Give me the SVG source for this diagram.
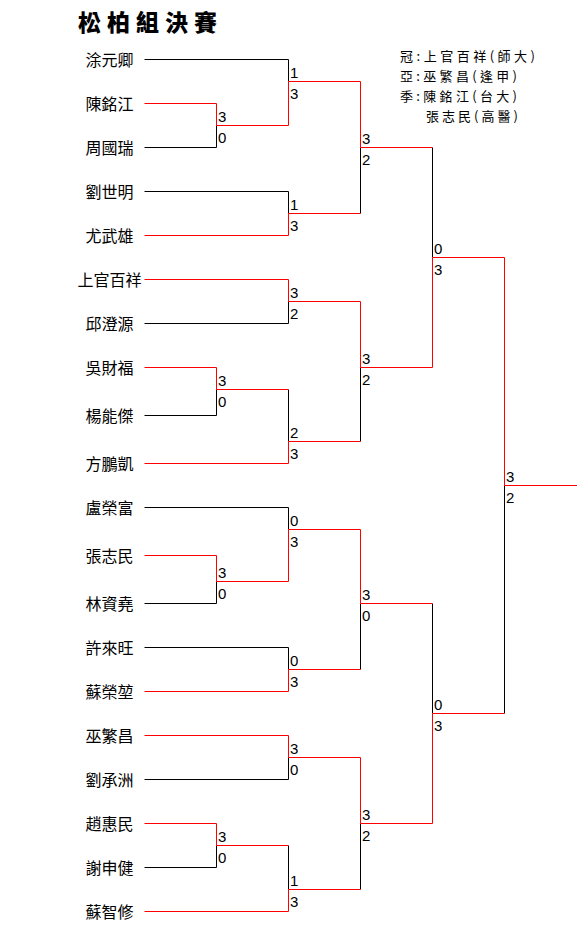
<svg xmlns="http://www.w3.org/2000/svg" width="577" height="934" viewBox="0 0 577 934">
<style>
.bg{fill:#fff}
.k{fill:none;stroke:#000;stroke-width:1}
.r{fill:none;stroke:#f00;stroke-width:1}
.nm{font-family:"Noto Sans CJK TC","Noto Sans CJK SC",sans-serif;font-size:16px;fill:#000;text-anchor:middle}
.sc{font-family:"Liberation Sans",Arial,sans-serif;font-size:15px;fill:#000}
.ttl{font-family:"Noto Sans CJK TC","Noto Sans CJK SC",serif;font-size:23px;font-weight:900;fill:#000;letter-spacing:6px}
.lg{font-family:"Noto Sans CJK TC","Noto Sans CJK SC",sans-serif;font-size:13px;fill:#000}
</style>
<rect class="bg" x="0" y="0" width="577" height="934"/>
<text id="title" class="ttl" x="78" y="31">松柏組決賽</text>
<g id="legend">
<text class="lg" x="400" y="61" textLength="135" lengthAdjust="spacing">冠:上官百祥(師大)</text>
<text class="lg" x="400" y="81" textLength="117" lengthAdjust="spacing">亞:巫繁昌(逢甲)</text>
<text class="lg" x="400" y="101" textLength="117" lengthAdjust="spacing">季:陳銘江(台大)</text>
<text class="lg" x="426" y="121" textLength="92" lengthAdjust="spacing">張志民(高醫)</text>
</g>
<g id="connectors">
<path class="k" d="M144.5 59.5H288.5V81.5M144.5 147.5H216.5V125.5M144.5 191.5H288.5V213.5M360.5 147.5V213.5M144.5 323.5H288.5V301.5M144.5 415.5H216.5V389.5M288.5 389.5V441.5M360.5 367.5V441.5M432.5 147.5V257.5M504.5 485.5V713.5M144.5 507.5H288.5V529.5M144.5 603.5H216.5V581.5M144.5 647.5H288.5V669.5M360.5 603.5V669.5M432.5 603.5V713.5M144.5 779.5H288.5V757.5M144.5 867.5H216.5V845.5M288.5 845.5V889.5M360.5 823.5V889.5"/>
<path class="r" d="M144.5 103.5H216.5V125.5H288.5V81.5H360.5V147.5H432.5"/>
<path class="r" d="M144.5 235.5H288.5V213.5H360.5"/>
<path class="r" d="M144.5 279.5H288.5V301.5H360.5V367.5H432.5V257.5H504.5V485.5H577"/>
<path class="r" d="M144.5 367.5H216.5V389.5H288.5"/>
<path class="r" d="M144.5 463.5H288.5V441.5H360.5"/>
<path class="r" d="M144.5 555.5H216.5V581.5H288.5V529.5H360.5V603.5H432.5"/>
<path class="r" d="M144.5 691.5H288.5V669.5H360.5"/>
<path class="r" d="M144.5 735.5H288.5V757.5H360.5V823.5H432.5V713.5H504.5"/>
<path class="r" d="M144.5 823.5H216.5V845.5H288.5"/>
<path class="r" d="M144.5 911.5H288.5V889.5H360.5"/>
</g>
<g id="scores" class="sc">
<text x="218" y="122">3</text><text x="218" y="143">0</text>
<text x="290" y="78">1</text><text x="290" y="99">3</text>
<text x="290" y="210">1</text><text x="290" y="231">3</text>
<text x="362" y="144">3</text><text x="362" y="165">2</text>
<text x="290" y="298">3</text><text x="290" y="319">2</text>
<text x="218" y="386">3</text><text x="218" y="407">0</text>
<text x="290" y="438">2</text><text x="290" y="459">3</text>
<text x="362" y="364">3</text><text x="362" y="385">2</text>
<text x="434" y="254">0</text><text x="434" y="275">3</text>
<text x="506" y="482">3</text><text x="506" y="503">2</text>
<text x="290" y="526">0</text><text x="290" y="547">3</text>
<text x="218" y="578">3</text><text x="218" y="599">0</text>
<text x="290" y="666">0</text><text x="290" y="687">3</text>
<text x="362" y="600">3</text><text x="362" y="621">0</text>
<text x="290" y="754">3</text><text x="290" y="775">0</text>
<text x="218" y="842">3</text><text x="218" y="863">0</text>
<text x="290" y="886">1</text><text x="290" y="907">3</text>
<text x="362" y="820">3</text><text x="362" y="841">2</text>
<text x="434" y="710">0</text><text x="434" y="731">3</text>
</g>
<g id="p01"><text class="nm" x="109.5" y="65.5">涂元卿</text></g>
<g id="p02"><text class="nm" x="109.5" y="109.5">陳銘江</text></g>
<g id="p03"><text class="nm" x="109.5" y="153.5">周國瑞</text></g>
<g id="p04"><text class="nm" x="109.5" y="197.5">劉世明</text></g>
<g id="p05"><text class="nm" x="109.5" y="241.5">尤武雄</text></g>
<g id="p06"><text class="nm" x="109.5" y="285.5">上官百祥</text></g>
<g id="p07"><text class="nm" x="109.5" y="329.5">邱澄源</text></g>
<g id="p08"><text class="nm" x="109.5" y="373.5">吳財福</text></g>
<g id="p09"><text class="nm" x="109.5" y="421.5">楊能傑</text></g>
<g id="p10"><text class="nm" x="109.5" y="469.5">方鵬凱</text></g>
<g id="p11"><text class="nm" x="109.5" y="513.5">盧榮富</text></g>
<g id="p12"><text class="nm" x="109.5" y="561.5">張志民</text></g>
<g id="p13"><text class="nm" x="109.5" y="609.5">林資堯</text></g>
<g id="p14"><text class="nm" x="109.5" y="653.5">許來旺</text></g>
<g id="p15"><text class="nm" x="109.5" y="697.5">蘇榮堃</text></g>
<g id="p16"><text class="nm" x="109.5" y="741.5">巫繁昌</text></g>
<g id="p17"><text class="nm" x="109.5" y="785.5">劉承洲</text></g>
<g id="p18"><text class="nm" x="109.5" y="829.5">趙惠民</text></g>
<g id="p19"><text class="nm" x="109.5" y="873.5">謝申健</text></g>
<g id="p20"><text class="nm" x="109.5" y="917.5">蘇智修</text></g>
</svg>
